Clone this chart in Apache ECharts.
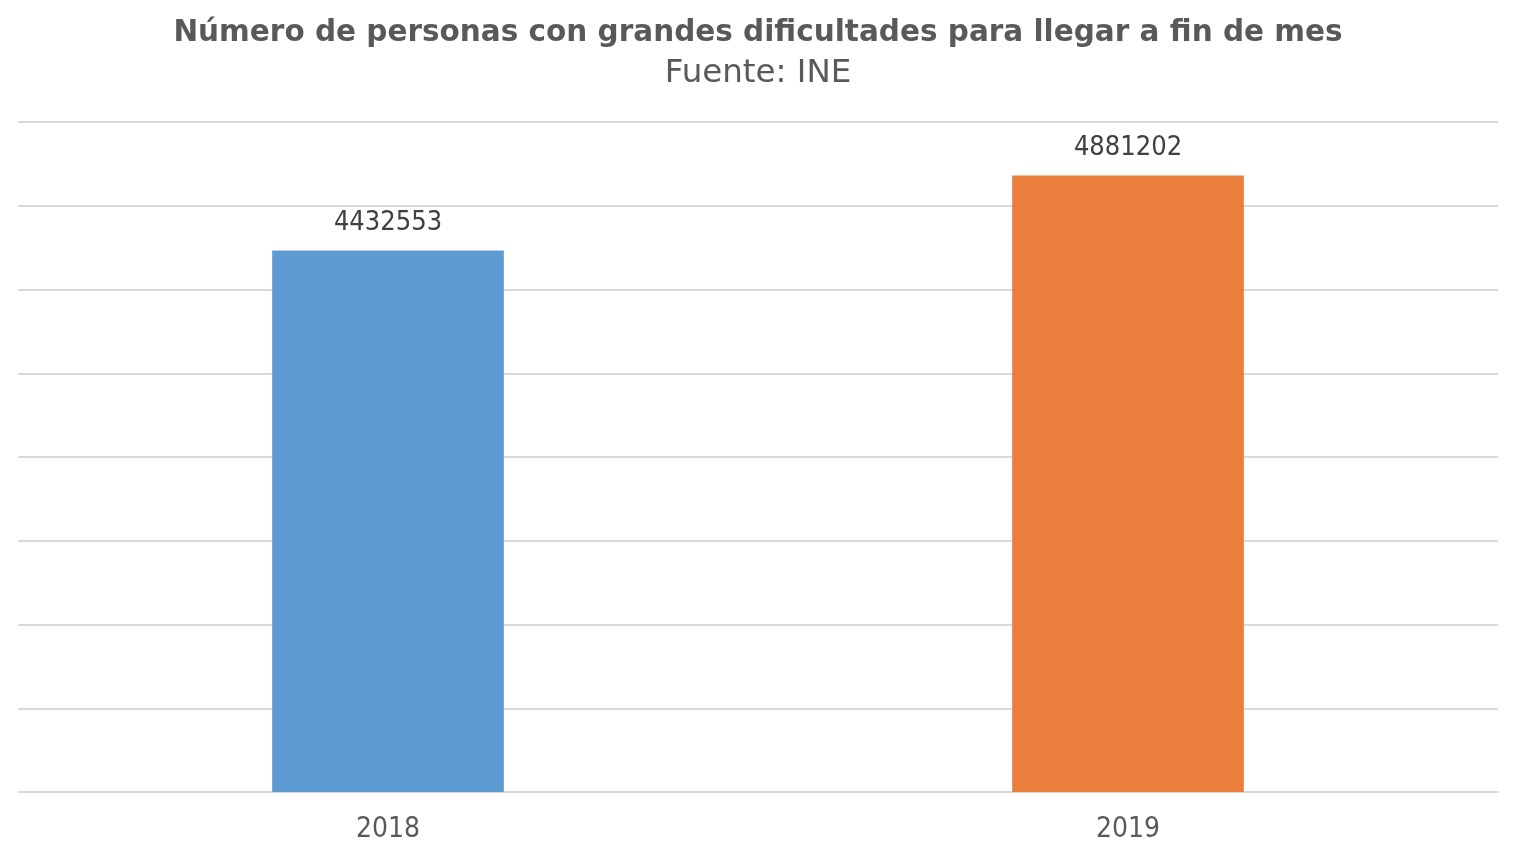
<!DOCTYPE html>
<html>
<head>
<meta charset="utf-8">
<title>Número de personas con grandes dificultades para llegar a fin de mes</title>
<script src="https://cdn.jsdelivr.net/npm/echarts@6/dist/echarts.min.js"></script>
<style>
  html, body { margin: 0; padding: 0; background: #fff; }
  #chart { width: 1516px; height: 855px; }
</style>
</head>
<body>
<div id="chart"></div>
<script>
const YEARS = ['2018', '2019'];
const PERSONAS = [4432553, 4881202];
const BAR_COLORS = ['#5E9BD3', '#E97E3D'];

// eje sin etiquetas; las líneas se leen a 500 000 desde 1,2 M
const Y_MIN = 1200000;
const Y_MAX = 5200000;
const Y_STEP = 500000;

const FONT = '"DejaVu Sans", sans-serif';
const FONT_NARROW = '"DejaVu Sans Condensed", "DejaVu Sans", sans-serif';

let chart = echarts.init(document.querySelector('#chart'));

chart.setOption({
  animation: false,
  title: {
    text: 'Número de personas con grandes dificultades para llegar a fin de mes',
    subtext: 'Fuente: INE',
    left: 'center',
    top: 13,
    itemGap: 9,
    textStyle: {
      fontFamily: FONT,
      fontSize: 29.5,
      fontWeight: 'bold',
      color: '#595959'
    },
    subtextStyle: {
      fontFamily: FONT,
      fontSize: 32.5,
      color: '#595959'
    }
  },
  grid: { left: 18, right: 18, top: 122, bottom: 63 },
  xAxis: {
    type: 'category',
    data: YEARS,
    axisTick: { show: false },
    axisLine: { lineStyle: { color: '#D9D9D9', width: 2 } },
    axisLabel: {
      fontFamily: FONT_NARROW,
      fontSize: 28,
      color: '#595959',
      margin: 24
    }
  },
  yAxis: {
    type: 'value',
    min: Y_MIN,
    max: Y_MAX,
    interval: Y_STEP,
    axisLabel: { show: false },
    axisLine: { show: false },
    axisTick: { show: false },
    splitLine: { lineStyle: { color: '#D9D9D9', width: 2 } }
  },
  series: [{
    type: 'bar',
    barWidth: '31.3%',
    data: PERSONAS.map((v, i) => ({ value: v, itemStyle: { color: BAR_COLORS[i] } })),
    label: {
      show: true,
      position: 'top',
      distance: 14,
      fontFamily: FONT_NARROW,
      fontSize: 27,
      color: '#404040'
    }
  }]
});
</script>
</body>
</html>
